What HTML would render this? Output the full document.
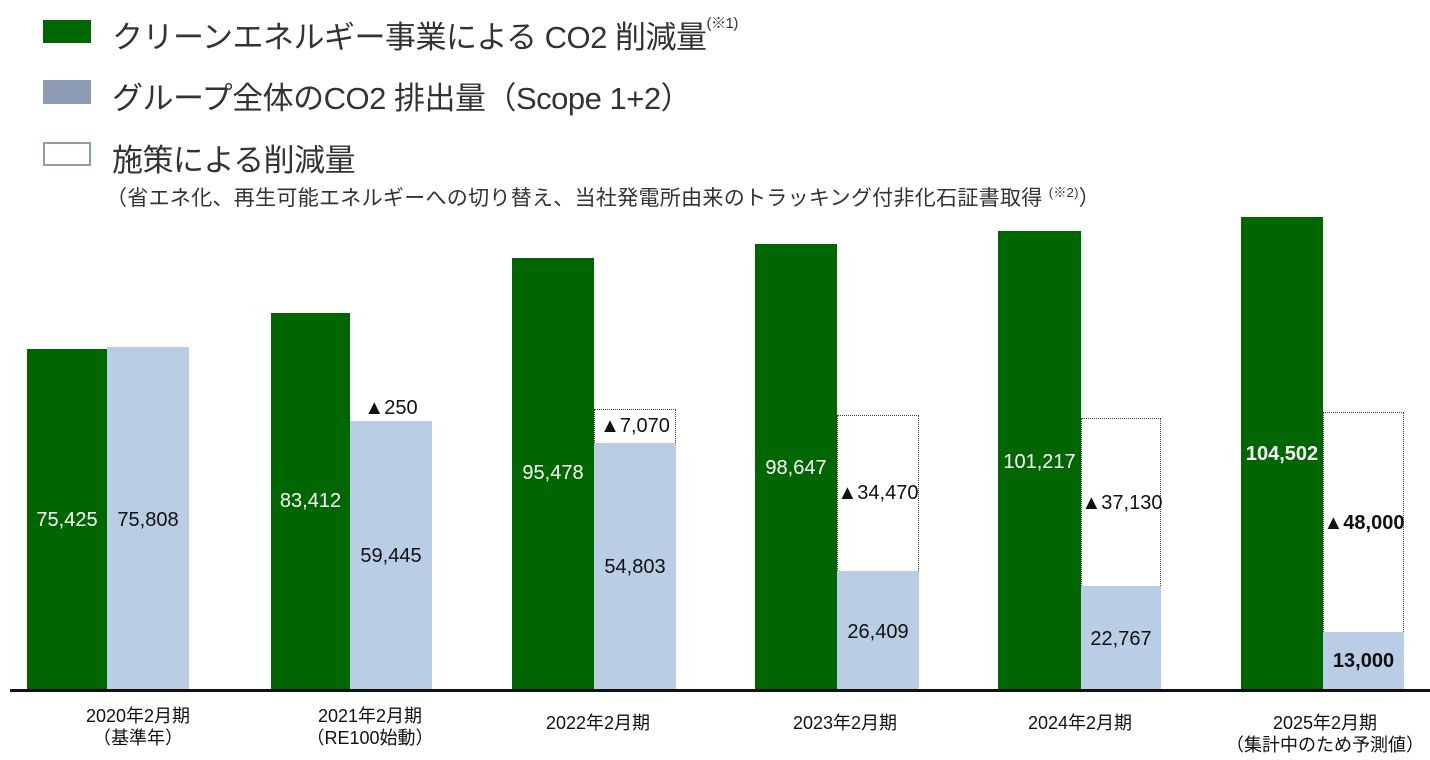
<!DOCTYPE html><html><head><meta charset="utf-8"><style>
body{margin:0;width:1430px;height:760px;background:#fff;position:relative;overflow:hidden;font-family:"Liberation Sans","Noto Sans CJK JP",sans-serif}
div{position:absolute;box-sizing:border-box}
.g{background:#006600}.b{background:#b9cde5}
.d{border:1.5px dotted #444;border-bottom:none}
.v{font-size:20px;color:#111;text-align:center;white-space:nowrap}
.w{color:#fff}
.lg{font-size:31px;color:#333;white-space:nowrap;letter-spacing:-0.5px}
.x{font-size:18px;color:#111;text-align:center;line-height:22px;white-space:nowrap}
</style></head><body>
<div style="left:43px;top:20px;width:48px;height:23px;background:#006600"></div>
<div class="lg" style="left:112px;top:12px">クリーンエネルギー事業による CO2 削減量<span style="font-size:15px;vertical-align:top">(※1)</span></div>
<div style="left:43px;top:80px;width:48px;height:24px;background:#8e9bb5"></div>
<div class="lg" style="left:112px;top:73px">グループ全体のCO2 排出量（Scope 1+2）</div>
<div style="left:43px;top:142px;width:48px;height:24px;border:2px solid #8e9bb5"></div>
<div class="lg" style="left:112px;top:135px">施策による削減量</div>
<div style="left:106px;top:182px;font-size:21px;color:#333;white-space:nowrap;letter-spacing:0.3px">（省エネ化、再生可能エネルギーへの切り替え、当社発電所由来のトラッキング付非化石証書取得 <span style="font-size:13px;vertical-align:top">(※2)</span>）</div>

<div class="g" style="left:27px;top:349px;width:80px;height:341px"></div>
<div class="b" style="left:107px;top:347px;width:82px;height:343px"></div>
<div class="v w" style="left:22px;top:509px;width:90px">75,425</div>
<div class="v" style="left:102px;top:509px;width:92px">75,808</div>

<div class="g" style="left:271px;top:313px;width:79px;height:377px"></div>
<div class="b" style="left:350px;top:421px;width:82px;height:269px"></div>
<div class="v w" style="left:266px;top:490px;width:89px">83,412</div>
<div class="v" style="left:345px;top:397px;width:92px">▲250</div>
<div class="v" style="left:345px;top:545px;width:92px">59,445</div>

<div class="g" style="left:512px;top:258px;width:82px;height:432px"></div>
<div class="d" style="left:594px;top:409px;width:82px;height:34px"></div>
<div class="b" style="left:594px;top:443px;width:82px;height:247px"></div>
<div class="v w" style="left:507px;top:462px;width:92px">95,478</div>
<div class="v" style="left:589px;top:415px;width:92px">▲7,070</div>
<div class="v" style="left:589px;top:556px;width:92px">54,803</div>

<div class="g" style="left:755px;top:244px;width:82px;height:446px"></div>
<div class="d" style="left:837px;top:415px;width:82px;height:156px"></div>
<div class="b" style="left:837px;top:571px;width:82px;height:119px"></div>
<div class="v w" style="left:750px;top:457px;width:92px">98,647</div>
<div class="v" style="left:827px;top:482px;width:102px">▲34,470</div>
<div class="v" style="left:832px;top:621px;width:92px">26,409</div>

<div class="g" style="left:998px;top:231px;width:83px;height:459px"></div>
<div class="d" style="left:1081px;top:418px;width:80px;height:168px"></div>
<div class="b" style="left:1081px;top:586px;width:80px;height:104px"></div>
<div class="v w" style="left:993px;top:451px;width:93px">101,217</div>
<div class="v" style="left:1071px;top:492px;width:102px">▲37,130</div>
<div class="v" style="left:1076px;top:628px;width:90px">22,767</div>

<div class="g" style="left:1241px;top:217px;width:82px;height:473px"></div>
<div class="d" style="left:1323px;top:412px;width:81px;height:220px"></div>
<div class="b" style="left:1323px;top:632px;width:81px;height:58px"></div>
<div class="v w" style="left:1236px;top:443px;width:92px;font-weight:bold">104,502</div>
<div class="v" style="left:1313px;top:512px;width:102px;font-weight:bold">▲48,000</div>
<div class="v" style="left:1318px;top:650px;width:91px;font-weight:bold">13,000</div>

<div style="left:10px;top:689px;width:1420px;height:3px;background:#111"></div>

<div class="x" style="left:58px;top:705px;width:160px">2020年2月期<br>（基準年）</div>
<div class="x" style="left:290px;top:705px;width:160px">2021年2月期<br>（RE100始動）</div>
<div class="x" style="left:518px;top:712px;width:160px">2022年2月期</div>
<div class="x" style="left:765px;top:712px;width:160px">2023年2月期</div>
<div class="x" style="left:1000px;top:712px;width:160px">2024年2月期</div>
<div class="x" style="left:1225px;top:712px;width:200px">2025年2月期<br>（集計中のため予測値）</div>
</body></html>
